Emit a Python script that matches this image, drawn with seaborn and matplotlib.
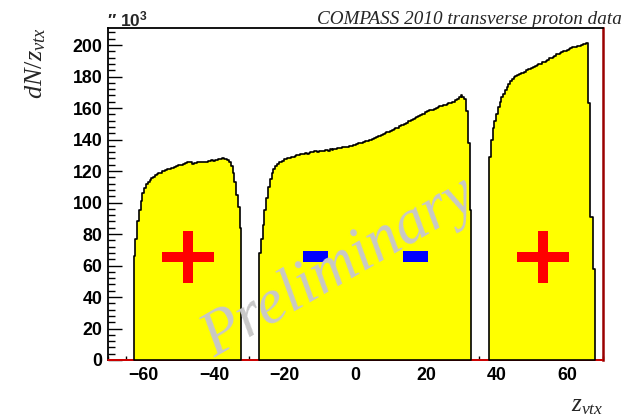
import numpy as np
import pandas as pd
import matplotlib
matplotlib.use("Agg")
import matplotlib.pyplot as plt
import seaborn as sns
from matplotlib.patches import Rectangle
from matplotlib.ticker import MultipleLocator

# ---------------------------------------------------------------------------
# Vertex distribution along the beam axis, counts per 0.5 cm bin (units of 10^3)
# ---------------------------------------------------------------------------
BIN_WIDTH = 0.5

upstream_start = -62.75
upstream_counts = [
    66, 77, 88, 95, 101, 106, 109, 111.5, 113, 114.5,
    115.5, 116.5, 117.5, 118, 118.5, 119, 120, 120, 120.5, 121,
    121.5, 122, 122, 122.5, 123, 123.5, 124, 124, 124.5, 125,
    125.5, 126, 125.5, 124.5, 125, 125, 125.5, 125.5, 126, 125.5,
    126, 126, 126.5, 126.5, 127, 126.5, 127, 127, 127.5, 127.5,
    128, 127.5, 127.5, 127, 126, 123, 119, 113, 105, 97,
    84,
]

central_start = -27.25
central_counts = [
    68, 77, 86, 95, 103, 110, 115, 119, 121.5, 123,
    124.5, 125.5, 126, 126.5, 127.5, 127.5, 128, 128.5, 129, 129,
    129.5, 130, 130, 130.5, 131, 131, 131.5, 131, 131.5, 132,
    132, 132.5, 132.5, 132, 133, 133, 133, 133.5, 133.5, 133,
    134, 133.5, 134, 134, 134.5, 134.5, 134.5, 135, 135, 135.5,
    135.5, 136, 136, 136.5, 136.5, 137, 137.5, 137.5, 138, 138.5,
    139, 139, 139.5, 140, 140.5, 141, 141.5, 142.5, 142.5, 143,
    143.5, 144, 144.5, 145, 145.5, 146, 146.5, 147.5, 147.5, 148.5,
    149, 149.5, 150, 150.5, 151.5, 152, 152.5, 153, 153.5, 154.5,
    155, 155.5, 156, 156.5, 157.5, 158, 158.5, 158.5, 159, 159.5,
    160, 160.5, 161, 161.5, 162, 162, 162.5, 163, 163, 163.5,
    164, 165, 166, 167, 168, 167, 166, 158, 138, 95,
]

downstream_start = 37.75
downstream_counts = [
    129, 140, 147, 152, 156.5, 160.5, 164, 167, 169, 171.5,
    173.5, 175, 177, 178.5, 179.5, 180.5, 181, 181.5, 182.5, 182.5,
    183, 184, 184.5, 185, 185.5, 186, 186.5, 187.5, 188, 188,
    189, 189.5, 190, 190.5, 191.5, 192, 192.5, 193, 194, 194.5,
    195, 195.5, 196, 196.5, 197, 197.5, 198, 198.5, 198.5, 199,
    199.5, 199.5, 200, 200.5, 200.5, 201, 163, 91, 91, 58,
]

# target-cell polarisation signs
sign_x = [-47.4, -11.35, 17.0, 53.1]
sign_y = [65.4, 65.6, 65.6, 65.4]
sign_kind = ["+", "-", "-", "+"]

x_ticks = [-60, -40, -20, 0, 20, 40, 60]
y_ticks = [0, 20, 40, 60, 80, 100, 120, 140, 160, 180, 200]

title_text = "COMPASS 2010 transverse proton data"
watermark = "Preliminary"

W, H = 634, 420


def fx(x):
    return x / W


def fy(y):
    return 1 - y / H


sns.set_theme(style="white")
plt.rcParams["font.family"] = ["Liberation Sans", "DejaVu Sans"]
plt.rcParams["mathtext.fontset"] = "custom"
plt.rcParams["mathtext.it"] = "Liberation Serif:italic"
plt.rcParams["mathtext.rm"] = "Liberation Serif"
plt.rcParams["mathtext.bf"] = "Liberation Sans:bold"

fig = plt.figure(figsize=(W / 100, H / 100), dpi=100)
fig.patch.set_facecolor("white")
ax = fig.add_axes([fx(108), fy(360), (603 - 108) / W, (360 - 28) / H])
ax.set_facecolor("white")

# red zero line of the empty regions
ax.axhline(0, color="#e00000", lw=1.3, zorder=2.6, clip_on=False)

segments = [
    (upstream_start, upstream_counts),
    (central_start, central_counts),
    (downstream_start, downstream_counts),
]
for start, counts in segments:
    counts = np.asarray(counts, dtype=float)
    stop = start + BIN_WIDTH * len(counts)
    centers = start + BIN_WIDTH * (np.arange(len(counts)) + 0.5)
    seg = pd.DataFrame({"z": centers, "n": counts})
    sns.histplot(
        data=seg, x="z", weights="n", binwidth=BIN_WIDTH, binrange=(start, stop),
        element="step", fill=True,
        facecolor="#ffff00", edgecolor="black", alpha=1, linewidth=1.2,
        zorder=2.7, clip_on=False, ax=ax,
    )

# polarisation markers
for x, y, k in zip(sign_x, sign_y, sign_kind):
    if k == "+":
        ax.add_patch(Rectangle((x - 7.4, y - 3.0), 14.8, 6.0,
                               facecolor="#ff0000", edgecolor="none", zorder=5))
        ax.add_patch(Rectangle((x - 1.4, y - 16.5), 2.8, 33.0,
                               facecolor="#ff0000", edgecolor="none", zorder=5))
    else:
        ax.add_patch(Rectangle((x - 3.6, y - 3.6), 7.2, 7.2,
                               facecolor="#0000ff", edgecolor="none", zorder=5))

ax.set_xlim(-70, 70)
ax.set_ylim(0, 210.8)
ax.set_xticks(x_ticks)
ax.set_yticks(y_ticks)
ax.xaxis.set_minor_locator(MultipleLocator(5))
ax.yaxis.set_minor_locator(MultipleLocator(4))
ax.set_xlabel("")
ax.set_ylabel("")

for side in ["left", "bottom", "top"]:
    ax.spines[side].set_color("black")
    ax.spines[side].set_linewidth(1.3)
    ax.spines[side].set_zorder(2.5)
ax.spines["right"].set_color("#9a0000")
ax.spines["right"].set_linewidth(1.8)

ax.tick_params(axis="both", which="both", direction="in", bottom=True, left=True,
               top=False, right=False, width=1.0, color="black")
ax.tick_params(axis="y", which="major", length=10, pad=4)
ax.tick_params(axis="y", which="minor", length=5)
ax.tick_params(axis="x", which="major", length=6.7, pad=5)
ax.tick_params(axis="x", which="minor", length=3.1)
for lab in ax.get_xticklabels() + ax.get_yticklabels():
    lab.set_fontfamily("Liberation Sans")
    lab.set_fontweight("bold")
    lab.set_fontsize(12.8)
    lab.set_color("black")

# titles and annotations
fig.text(fx(622), fy(24), title_text, ha="right", va="baseline",
         fontfamily="Liberation Serif", fontstyle="italic", fontsize=13.8)
fig.text(fx(36), fy(27), r"$dN/z_{vtx}$", rotation=90, ha="center", va="top",
         fontsize=19)
fig.text(fx(603), fy(405), r"$z_{vtx}$", ha="right", va="center", fontsize=18)
fig.text(fx(107), fy(26), "″ $\\mathbf{10^{3}}$", ha="left", va="baseline",
         fontsize=12.5, fontweight="bold")

fig.text(fx(214), fy(358), watermark, rotation=30, rotation_mode="anchor",
         ha="left", va="baseline", fontfamily="Liberation Serif",
         fontstyle="italic", fontsize=46, color="#c8c8c8", zorder=4)

fig.savefig("out.png", dpi=100, facecolor="white")
